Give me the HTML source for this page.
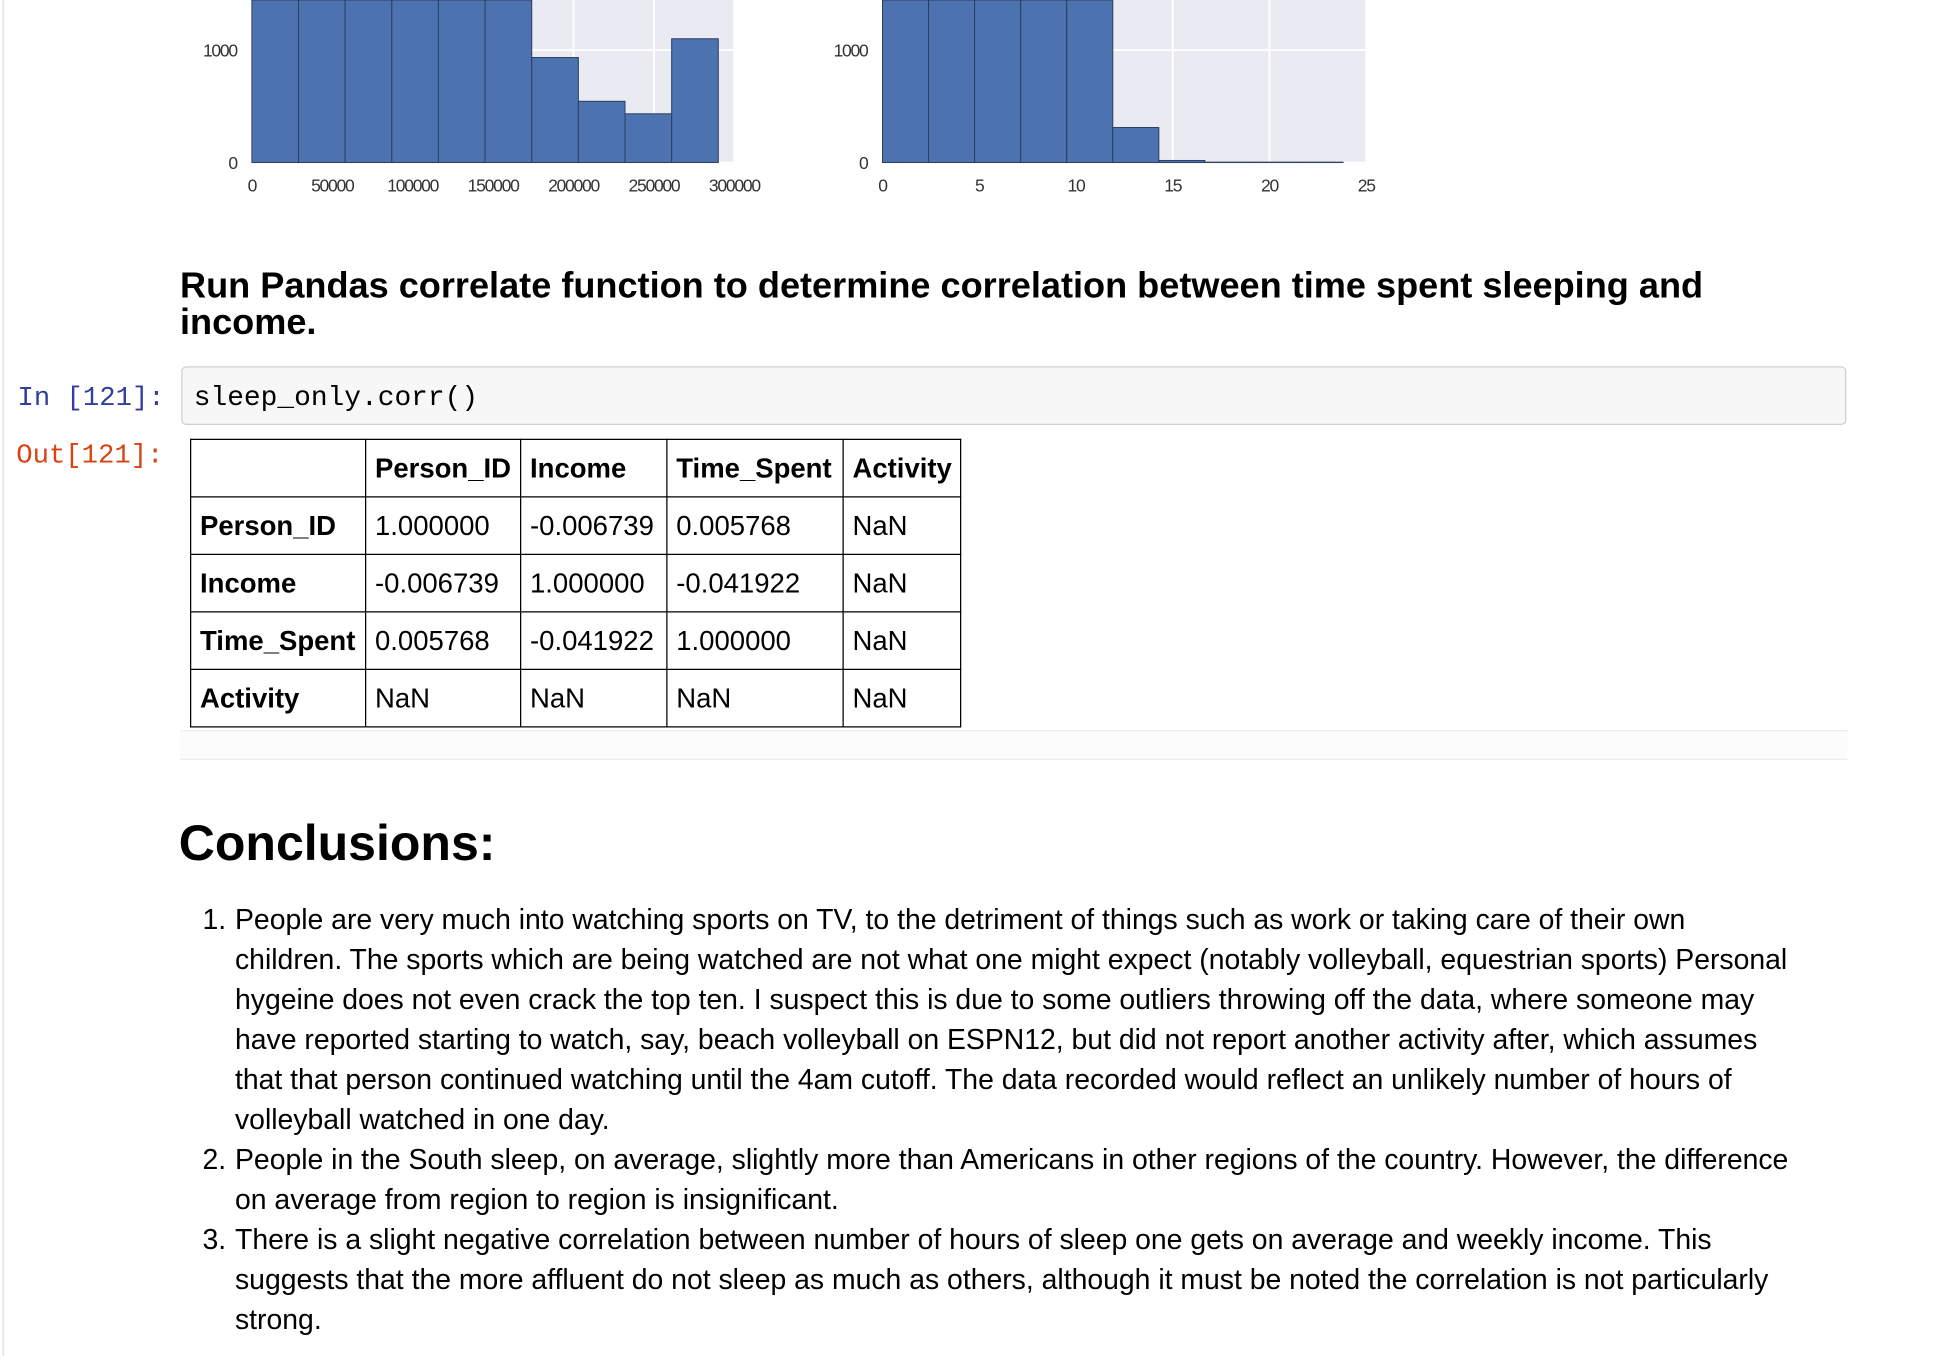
<!DOCTYPE html>
<html><head><meta charset="utf-8">
<style>
html,body{margin:0;padding:0;background:#fff;width:1960px;height:1356px;overflow:hidden}
#wrap{position:absolute;left:0;top:0;width:1568px;height:1085px;transform:scale(1.25);transform-origin:0 0;font-family:"Liberation Sans",Arial,sans-serif;color:#000}
.abs{position:absolute}
.mono{font-family:"Liberation Mono",monospace}
table{border-collapse:collapse;font-size:22px;background:#fff}
td,th{border:1.5px solid #000;padding:0 7px;height:45px;text-align:left;white-space:nowrap}
th{font-weight:bold}
.li{position:absolute;left:188px;font-size:22.7px;line-height:32px;white-space:nowrap}
.num{position:absolute;left:162px;font-size:22.7px;line-height:32px}
</style></head>
<body>
<div id="wrap">
<div class="abs" style="left:2px;top:0;width:1px;height:1085px;background:#ddd"></div>
<svg class="abs" style="left:0;top:0" width="1200" height="170" id="hsvg"></svg>

<div class="abs" style="left:144px;top:215px;font-size:28.9px;font-weight:bold;line-height:29px;white-space:nowrap">Run Pandas correlate function to determine correlation between time spent sleeping and<br>income.</div>

<div class="abs mono" style="left:14px;top:306px;font-size:21.8px;color:#303F9F">In [121]:</div>
<div class="abs" style="left:145px;top:293px;width:1332px;height:47px;background:#f7f7f7;border:1px solid #cfcfcf;border-radius:4px;box-sizing:border-box"></div>
<div class="abs mono" style="left:155px;top:305px;font-size:22.3px;color:#000">sleep_only.corr()</div>

<div class="abs mono" style="left:13px;top:352px;font-size:21.8px;color:#D84315">Out[121]:</div>
<div class="abs" style="left:144px;top:584px;width:1334px;height:22px;border-top:1px solid #eee;border-bottom:1px solid #eee;background:#fcfcfc"></div>
<table class="abs" style="left:152px;top:351px">
<tr><th style="width:125px"></th><th style="width:109px">Person_ID</th><th style="width:102px">Income</th><th style="width:126px">Time_Spent</th><th style="width:79px">Activity</th></tr>
<tr><th>Person_ID</th><td>1.000000</td><td>-0.006739</td><td>0.005768</td><td>NaN</td></tr>
<tr><th>Income</th><td>-0.006739</td><td>1.000000</td><td>-0.041922</td><td>NaN</td></tr>
<tr><th>Time_Spent</th><td>0.005768</td><td>-0.041922</td><td>1.000000</td><td>NaN</td></tr>
<tr><th>Activity</th><td>NaN</td><td>NaN</td><td>NaN</td><td>NaN</td></tr>
</table>

<div class="abs" style="left:143px;top:653px;font-size:40px;font-weight:bold">Conclusions:</div>

<div>
<div class="num" style="top:719px">1.</div>
<div class="li" style="top:719px">People are very much into watching sports on TV, to the detriment of things such as work or taking care of their own</div>
<div class="li" style="top:751px">children. The sports which are being watched are not what one might expect (notably volleyball, equestrian sports) Personal</div>
<div class="li" style="top:783px">hygeine does not even crack the top ten. I suspect this is due to some outliers throwing off the data, where someone may</div>
<div class="li" style="top:815px">have reported starting to watch, say, beach volleyball on ESPN12, but did not report another activity after, which assumes</div>
<div class="li" style="top:847px">that that person continued watching until the 4am cutoff. The data recorded would reflect an unlikely number of hours of</div>
<div class="li" style="top:879px">volleyball watched in one day.</div>
<div class="num" style="top:911px">2.</div>
<div class="li" style="top:911px">People in the South sleep, on average, slightly more than Americans in other regions of the country. However, the difference</div>
<div class="li" style="top:943px">on average from region to region is insignificant.</div>
<div class="num" style="top:975px">3.</div>
<div class="li" style="top:975px">There is a slight negative correlation between number of hours of sleep one gets on average and weekly income. This</div>
<div class="li" style="top:1007px">suggests that the more affluent do not sleep as much as others, although it must be noted the correlation is not particularly</div>
<div class="li" style="top:1039px">strong.</div>
</div>
</div>
<script>
// Left histogram: income
const incomeBinStart = 0;
const incomeBinWidth = 29000;
const incomeCounts = [3000, 3000, 3000, 3000, 3000, 3000, 933, 544, 433, 1100];
const incomeTicks = [0, 50000, 100000, 150000, 200000, 250000, 300000];
// Right histogram: hours
const hoursBinStart = 0;
const hoursBinWidth = 2.38;
const hoursCounts = [3000, 3000, 3000, 3000, 3000, 311, 18, 3, 3, 3];
const hoursTicks = [0, 5, 10, 15, 20, 25];
const yTicks = [0, 1000];

const NS = 'http://www.w3.org/2000/svg';
const svg = document.getElementById('hsvg');
function mk(tag, attrs){const e=document.createElementNS(NS,tag);for(const k in attrs)e.setAttribute(k,attrs[k]);svg.appendChild(e);return e;}
function hist(px0, px1, xmax, start, width, counts, ticks, prefix){
  const y0=130, pxPer=90/1000;
  const X=v=>px0+(v/xmax)*(px1-px0);
  const Y=v=>Math.max(0,y0-v*pxPer);
  const bg=mk('rect',{x:px0,y:0,width:px1-px0,height:y0+1,fill:'#eaeaf2'});
  
  
  ticks.forEach(t=>{const l=mk('line',{x1:X(t),x2:X(t),y1:0,y2:y0,stroke:'#fff','stroke-width':1.5});
    
    
    const tx=mk('text',{x:X(t),y:153,'font-size':14,'text-anchor':'middle',fill:'#333','font-family':'Liberation Sans, sans-serif','letter-spacing':'-1'});
    tx.textContent=t;
    
    
  });
  yTicks.forEach(t=>{const l=mk('line',{x1:px0,x2:px1,y1:Y(t),y2:Y(t),stroke:'#fff','stroke-width':1.5});
    
    
    const tx=mk('text',{x:px0-12,y:Y(t)+5,'font-size':14,'text-anchor':'end',fill:'#333','font-family':'Liberation Sans, sans-serif','letter-spacing':'-1'});
    tx.textContent=t;
    
    
  });
  counts.forEach((c,i)=>{const a=X(start+i*width), b=X(start+(i+1)*width);
    const r=mk('rect',{x:a,y:Y(c),width:b-a,height:y0-Y(c),fill:'#4c72b0',stroke:'#2b3f62','stroke-width':0.8});
    
    
  });
}
hist(201.5, 587.5, 300000, incomeBinStart, incomeBinWidth, incomeCounts, incomeTicks, 'income-hist');
hist(706, 1093, 25, hoursBinStart, hoursBinWidth, hoursCounts, hoursTicks, 'hours-hist');
</script>
</body></html>
